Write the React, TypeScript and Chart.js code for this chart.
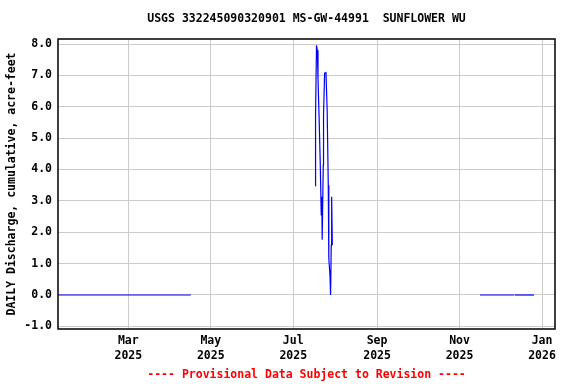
import React, { useEffect, useRef } from "react";
import { Chart, registerables } from "chart.js";

Chart.register(...registerables);

// x values are day offsets from 2025-01-01 (day 0)
const TITLE = "USGS 332245090320901 MS-GW-44991  SUNFLOWER WU";
const Y_TITLE = "DAILY Discharge, cumulative, acre-feet";
const FOOTER = "---- Provisional Data Subject to Revision ----";

const xTickDays = [59, 120, 181, 243, 304, 365];
const xTickLabels = [
  ["Mar", "2025"],
  ["May", "2025"],
  ["Jul", "2025"],
  ["Sep", "2025"],
  ["Nov", "2025"],
  ["Jan", "2026"],
];
const yTickValues = [-1, 0, 1, 2, 3, 4, 5, 6, 7, 8];

// winter/spring zero period
const springDays = [7, 105.2];
const springValues = [0, 0];

// summer pumping period
const summerDays = [
  197.3, 197.5, 198.2, 198.8, 199.3, 200.2, 201.0, 201.7, 202.1, 202.4,
  203.2, 203.4, 204.2, 205.2, 206.1, 206.9, 207.3, 208.2, 208.6, 209.1,
  209.4, 209.9,
];
const summerValues = [
  3.48, 5.73, 7.96, 7.8, 6.9, 5.54, 4.14, 2.55, 3.13, 1.76,
  4.14, 5.74, 7.07, 7.09, 5.86, 3.5, 1.17, 0.6, 0.0, 1.59,
  3.13, 1.59,
];

// late fall zero period (short gap mid-December)
const fallDaysA = [319.1, 344.3];
const fallValuesA = [0, 0];
const fallDaysB = [344.8, 359.1];
const fallValuesB = [0, 0];

const FONT = "'DejaVu Sans Mono', monospace";

export default function App() {
  const ref = useRef<HTMLCanvasElement | null>(null);

  useEffect(() => {
    const canvas = ref.current;
    if (!canvas) return;

    const mk = (xs: number[], ys: number[]) => xs.map((x, i) => ({ x, y: ys[i] }));

    const lineStyle = {
      borderColor: "#0000ff",
      borderWidth: 1.2,
      pointRadius: 0,
      fill: false,
      tension: 0,
    };

    const decor = {
      id: "decor",
      afterDatasetsDraw(chart: any) {
        const { ctx, chartArea } = chart;
        ctx.save();
        ctx.strokeStyle = "#000000";
        ctx.lineWidth = 1.5;
        ctx.strokeRect(
          chartArea.left,
          chartArea.top,
          chartArea.right - chartArea.left,
          chartArea.bottom - chartArea.top
        );
        const cx = (chartArea.left + chartArea.right) / 2;
        ctx.font = `bold 11.5px ${FONT}`;
        ctx.textAlign = "center";
        ctx.textBaseline = "middle";
        ctx.fillStyle = "#000000";
        ctx.fillText(TITLE, cx, 19);
        ctx.fillStyle = "#ff0000";
        ctx.fillText(FOOTER, cx, 375);
        ctx.restore();
      },
    };

    const chart = new Chart(canvas, {
      type: "line",
      data: {
        datasets: [
          { data: mk(springDays, springValues), ...lineStyle },
          { data: mk(summerDays, summerValues), ...lineStyle },
          { data: mk(fallDaysA, fallValuesA), ...lineStyle },
          { data: mk(fallDaysB, fallValuesB), ...lineStyle },
        ],
      },
      options: {
        animation: false,
        responsive: false,
        maintainAspectRatio: false,
        layout: { padding: { left: 0, right: 21, top: 39, bottom: 0 } },
        plugins: {
          legend: { display: false },
          tooltip: { enabled: false },
          title: { display: false },
        },
        scales: {
          x: {
            type: "linear",
            min: 7,
            max: 374.6,
            grid: { color: "#cccccc", drawTicks: false, lineWidth: 1 },
            border: { display: false },
            afterBuildTicks(scale: any) {
              scale.ticks = xTickDays.map((v) => ({ value: v }));
            },
            afterFit(scale: any) {
              scale.height = 384 - 329;
            },
            ticks: {
              color: "#000000",
              padding: 5,
              maxRotation: 0,
              autoSkip: false,
              font: { family: FONT, size: 11.5, weight: "bold", lineHeight: 1.3 },
              callback(value: any) {
                const i = xTickDays.indexOf(Number(value));
                return i >= 0 ? xTickLabels[i] : "";
              },
            },
          },
          y: {
            type: "linear",
            min: -1.084,
            max: 8.16,
            grid: { color: "#cccccc", drawTicks: false, lineWidth: 1 },
            border: { display: false },
            afterBuildTicks(scale: any) {
              scale.ticks = yTickValues.map((v) => ({ value: v }));
            },
            afterFit(scale: any) {
              scale.width = 58;
            },
            title: {
              display: true,
              text: Y_TITLE,
              color: "#000000",
              font: { family: FONT, size: 11.5, weight: "bold", lineHeight: 1.2 },
              padding: { top: 5, bottom: 0 },
            },
            ticks: {
              color: "#000000",
              padding: 6,
              font: { family: FONT, size: 11.5, weight: "bold" },
              callback(value: any) {
                return Number(value).toFixed(1);
              },
            },
          },
        },
      },
      plugins: [decor],
    } as any);

    return () => chart.destroy();
  }, []);

  return (
    <div style={{ position: "fixed", left: 0, top: 0, width: 576, height: 384, background: "#ffffff" }}>
      <canvas ref={ref} width={576} height={384} style={{ display: "block", width: 576, height: 384 }} />
    </div>
  );
}
